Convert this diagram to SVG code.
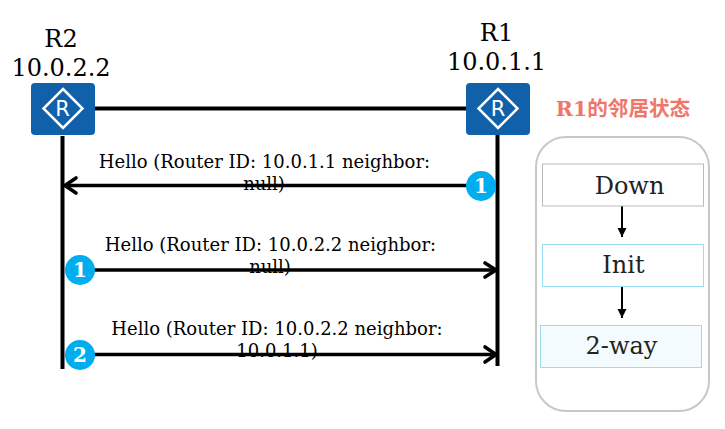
<svg xmlns="http://www.w3.org/2000/svg" width="725" height="429" viewBox="0 0 725 429">
<style>
text{font-family:"DejaVu Serif",serif;text-anchor:middle;fill:#000}
.name{font-size:24px}
.msg{font-size:18px}
.state{font-size:24px;fill:#222}
.num{font-size:20px;font-weight:bold;fill:#fff}
.wire{stroke:#000;stroke-width:4;fill:none}
.msgline{stroke:#000;stroke-width:3.6;fill:none}
.head{stroke:#000;stroke-width:3.6;fill:none;stroke-linecap:round}
.badge{fill:#00aeef}
.rbody{fill:#1060aa}
.rmark{fill:none;stroke:#fff;stroke-width:2.5}
.step{stroke:#000;stroke-width:2;fill:none;marker-end:url(#tri)}
</style>
<defs>
<marker id="tri" markerUnits="userSpaceOnUse" markerWidth="10" markerHeight="12" refX="9" refY="6" orient="auto"><path d="M0 1.5L9 6L0 10.5Z" fill="#000"/></marker>
</defs>
<g id="panel"><rect x="536" y="137" width="173" height="274" rx="30" fill="#fff" stroke="#c8c8c8" stroke-width="2"/></g>
<g id="connectors">
<path class="wire" d="M95 108.500H466"/>
<path class="wire" d="M62.500 136V369"/>
<path class="wire" d="M497.500 135V366"/>
<path class="msgline" d="M65 185.500H499"/>
<path class="head" d="M76 178L65 185.500L76 193"/>
<path class="msgline" d="M94 270H495"/>
<path class="head" d="M485 263L496 270L485 277"/>
<path class="msgline" d="M94 354.500H495"/>
<path class="head" d="M485 347L496 354.500L485 362"/>
<path class="step" d="M622 206V237"/>
<path class="step" d="M622 287V318"/>
</g>
<g id="r2"><rect class="rbody" x="31" y="83" width="64" height="52" rx="4"/><path class="rmark" d="M63 89L82.500 108.500L63 128L43.500 108.500Z"/><text x="62.500" y="116" style="font-family:'DejaVu Sans',sans-serif;font-size:21px;fill:#fff">R</text><text class="name" x="61" y="47">R2</text><text class="name" x="61" y="76">10.0.2.2</text></g>
<g id="r1"><rect class="rbody" x="466" y="83" width="64" height="52" rx="4"/><path class="rmark" d="M498 89L517.500 108.500L498 128L478.500 108.500Z"/><text x="498" y="116" style="font-family:'DejaVu Sans',sans-serif;font-size:21px;fill:#fff">R</text><text class="name" x="496.500" y="41">R1</text><text class="name" x="496.500" y="70">10.0.1.1</text></g>
<g id="title"><text x="623" y="116" style="font-family:'DejaVu Serif','Noto Sans CJK SC',serif;font-size:20.600px;font-weight:bold;fill:#f0766b">R1的邻居状态</text></g>
<g id="m1"><text class="msg" x="264.500" y="168">Hello (Router ID: 10.0.1.1 neighbor:</text><text class="msg" x="264" y="190">null)</text><circle class="badge" cx="481" cy="186" r="15"/><text class="num" x="481" y="193">1</text></g>
<g id="m2"><text class="msg" x="270.500" y="251">Hello (Router ID: 10.0.2.2 neighbor:</text><text class="msg" x="270" y="273">null)</text><circle class="badge" cx="80" cy="270" r="15"/><text class="num" x="80" y="277">1</text></g>
<g id="m3"><text class="msg" x="277" y="335">Hello (Router ID: 10.0.2.2 neighbor:</text><text class="msg" x="277" y="357">10.0.1.1)</text><circle class="badge" cx="80" cy="355" r="15"/><text class="num" x="80" y="362">2</text></g>
<g id="down"><rect x="542.500" y="164" width="161" height="42" fill="#fff" stroke="#bbb"/><text class="state" x="629.500" y="194">Down</text></g>
<g id="init"><rect x="542.500" y="244.500" width="161" height="42" fill="#fff" stroke="#99ddf5"/><text class="state" x="623.500" y="273">Init</text></g>
<g id="way"><rect x="540.500" y="325.500" width="161" height="42" fill="#f3fbff" stroke="#99ddf5"/><text class="state" x="621.500" y="354">2-way</text></g>
</svg>
